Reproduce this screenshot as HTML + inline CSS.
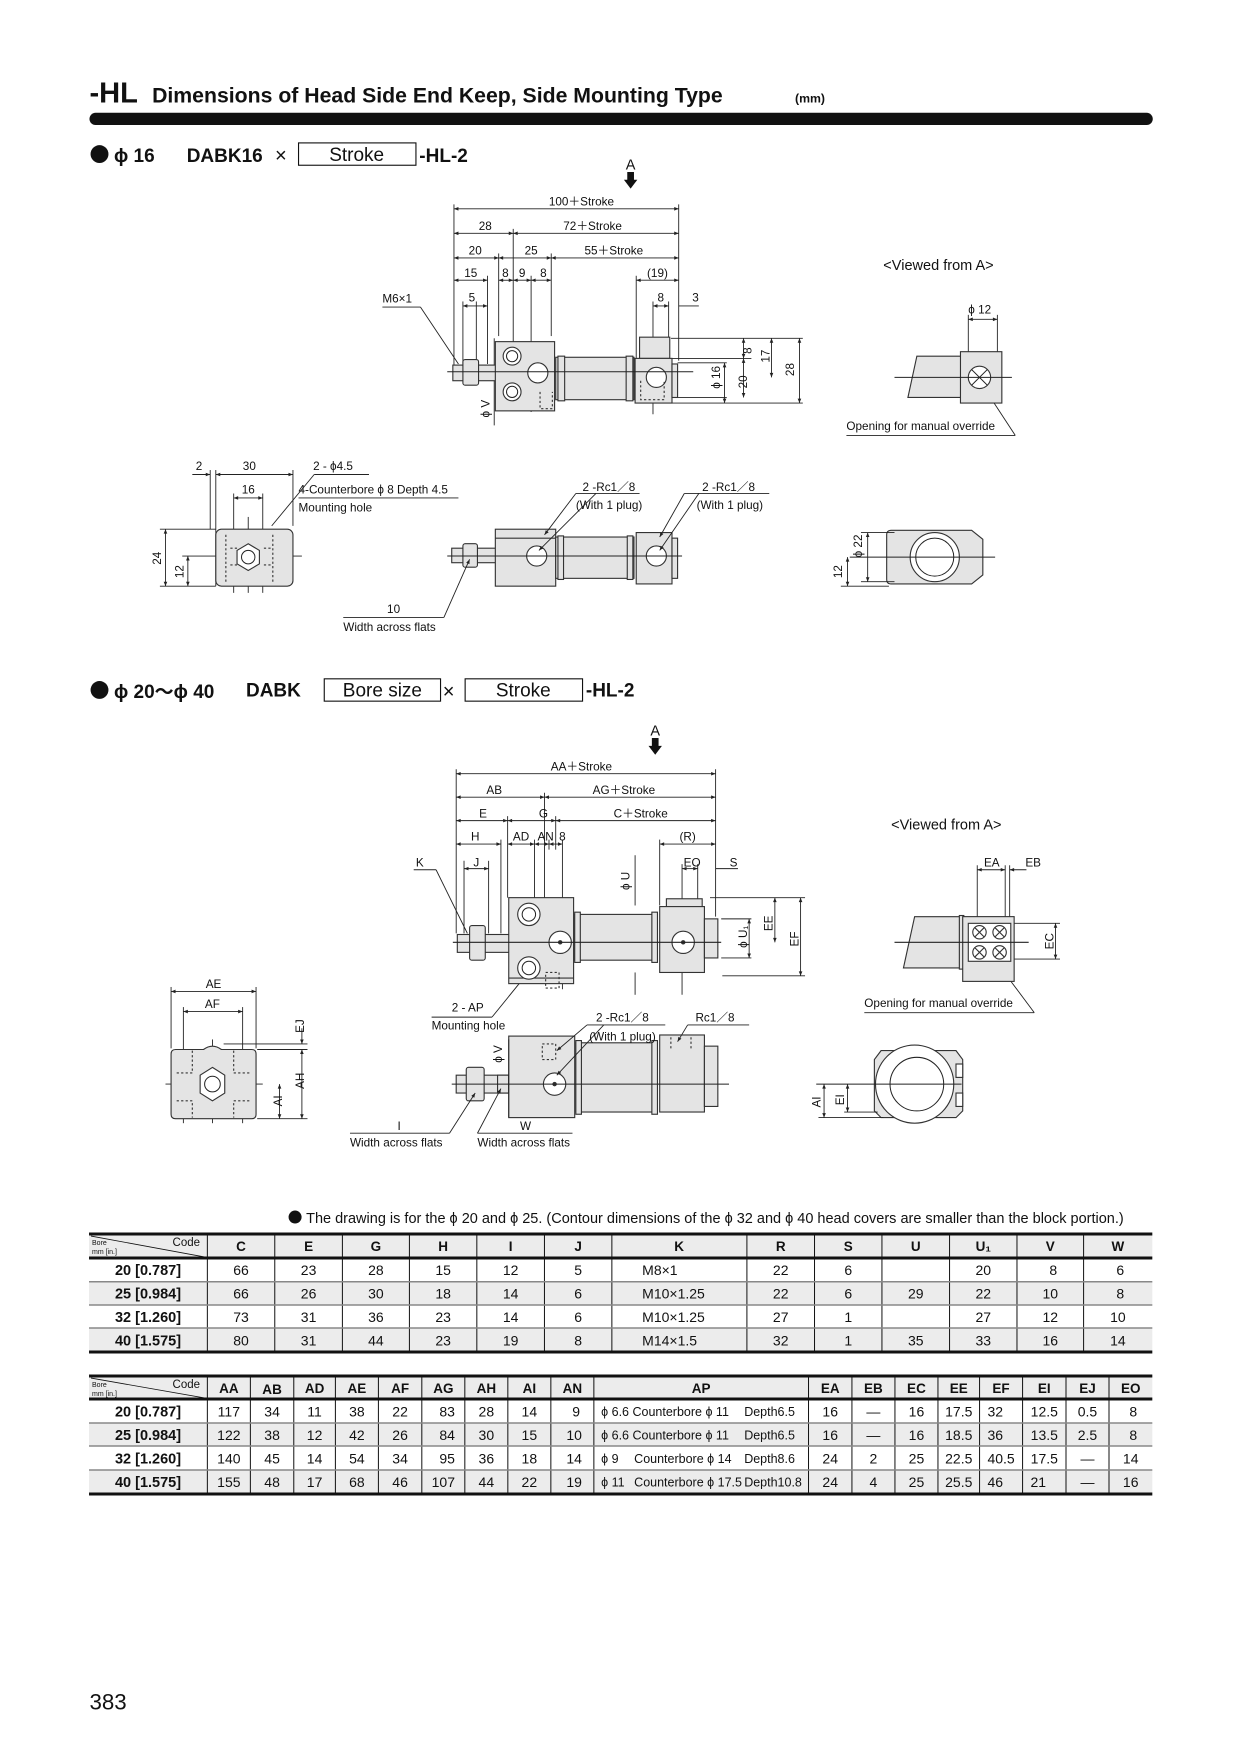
<!DOCTYPE html>
<html><head><meta charset="utf-8"><style>
html,body{margin:0;padding:0;background:#fff}
svg{display:block}
text{font-family:"Liberation Sans","Noto Sans CJK JP",sans-serif;fill:#111}
.d{stroke:#222;stroke-width:0.8;fill:none}
.c{stroke:#222;stroke-width:0.9;fill:none}
.p{fill:#e4e4e4;stroke:#333;stroke-width:1}
.w{fill:#fff;stroke:#333;stroke-width:1}
.s{font-size:10.5px}
.t{font-size:14px;text-anchor:middle}
.tb{font-size:13.5px;text-anchor:middle;font-weight:bold}
.ap{font-size:12.5px}
</style></head><body>
<svg width="1240" height="1754" viewBox="0 -1 1109 1571" preserveAspectRatio="none" xmlns="http://www.w3.org/2000/svg">
<defs>
<marker id="a" viewBox="0 0 10 10" refX="10" refY="5" markerWidth="7" markerHeight="5" orient="auto-start-reverse"><path d="M0,1 L10,5 L0,9 z" fill="#222"/></marker>
</defs>
<!-- Title -->
<text x="80" y="91" style="font-size:26px;font-weight:bold">-HL</text>
<text x="136" y="91" style="font-size:19px;font-weight:bold">Dimensions of Head Side End Keep, Side Mounting Type</text>
<text x="711" y="91" style="font-size:11px;font-weight:bold">(mm)</text>
<rect x="80" y="100" width="951" height="11" rx="5.5" fill="#111"/>

<!-- Section 1 heading -->
<circle cx="89" cy="137" r="8" fill="#111"/>
<text x="102" y="144" style="font-size:17px;font-weight:bold">ϕ 16</text>
<text x="167" y="144" style="font-size:17px;font-weight:bold">DABK16</text>
<text x="246" y="144" style="font-size:18px">×</text>
<rect x="267" y="127" width="105" height="20" fill="none" stroke="#111"/>
<text x="319" y="143" style="font-size:17px;text-anchor:middle">Stroke</text>
<text x="375" y="144" style="font-size:17px;font-weight:bold">-HL-2</text>
<text x="564" y="151" style="font-size:13px;text-anchor:middle">A</text>
<path d="M561,153 h6 v7 h3 l-6,8 l-6,-8 h3z" fill="#111"/>

<!-- Drawing 1 dims -->
<g class="d">
<line x1="406" y1="182" x2="406" y2="330"/><line x1="607" y1="182" x2="607" y2="322"/>
<line x1="459" y1="204" x2="459" y2="365"/><line x1="446" y1="226" x2="446" y2="300"/>
<line x1="493" y1="226" x2="493" y2="300"/><line x1="436" y1="246" x2="436" y2="325"/>
<line x1="475" y1="246" x2="475" y2="368"/><line x1="414" y1="269" x2="414" y2="325"/>
<line x1="426" y1="269" x2="426" y2="325"/><line x1="569" y1="246" x2="569" y2="320"/>
<line x1="584" y1="269" x2="584" y2="370"/><line x1="598" y1="269" x2="598" y2="322"/>
<line x1="406" y1="186" x2="607" y2="186" marker-start="url(#a)" marker-end="url(#a)"/>
<line x1="406" y1="208" x2="459" y2="208" marker-start="url(#a)" marker-end="url(#a)"/>
<line x1="459" y1="208" x2="607" y2="208" marker-start="url(#a)" marker-end="url(#a)"/>
<line x1="406" y1="230" x2="446" y2="230" marker-start="url(#a)" marker-end="url(#a)"/>
<line x1="446" y1="230" x2="493" y2="230" marker-start="url(#a)" marker-end="url(#a)"/>
<line x1="493" y1="230" x2="607" y2="230" marker-start="url(#a)" marker-end="url(#a)"/>
<line x1="406" y1="250" x2="436" y2="250" marker-start="url(#a)" marker-end="url(#a)"/>
<line x1="446" y1="250" x2="459" y2="250" marker-start="url(#a)" marker-end="url(#a)"/>
<line x1="459" y1="250" x2="475" y2="250" marker-start="url(#a)" marker-end="url(#a)"/>
<line x1="475" y1="250" x2="493" y2="250" marker-start="url(#a)" marker-end="url(#a)"/>
<line x1="569" y1="250" x2="607" y2="250" marker-start="url(#a)" marker-end="url(#a)"/>
<line x1="414" y1="273" x2="436" y2="273" marker-start="url(#a)" marker-end="url(#a)"/>
<line x1="584" y1="273" x2="598" y2="273" marker-start="url(#a)" marker-end="url(#a)"/>
<line x1="607" y1="273" x2="625" y2="273"/>
<line x1="342" y1="274" x2="376" y2="274"/><line x1="376" y1="274" x2="410" y2="325"/>
<line x1="600" y1="302" x2="718" y2="302"/><line x1="598" y1="320" x2="672" y2="320"/>
<line x1="606" y1="324" x2="650" y2="324"/><line x1="606" y1="355" x2="650" y2="355"/>
<line x1="601" y1="360" x2="718" y2="360"/>
<line x1="665" y1="302" x2="665" y2="320" marker-start="url(#a)" marker-end="url(#a)"/>
<line x1="665" y1="320" x2="665" y2="355" marker-start="url(#a)" marker-end="url(#a)"/>
<line x1="648" y1="324" x2="648" y2="360" marker-start="url(#a)" marker-end="url(#a)"/>
<line x1="690" y1="302" x2="690" y2="337" marker-start="url(#a)" marker-end="url(#a)"/>
<line x1="715" y1="302" x2="715" y2="360" marker-start="url(#a)" marker-end="url(#a)"/>
<line x1="442" y1="302" x2="442" y2="380"/>
</g>
<g class="s">
<text x="520" y="183" text-anchor="middle">100＋Stroke</text>
<text x="434" y="205" text-anchor="middle">28</text><text x="530" y="205" text-anchor="middle">72＋Stroke</text>
<text x="425" y="227" text-anchor="middle">20</text><text x="475" y="227" text-anchor="middle">25</text><text x="549" y="227" text-anchor="middle">55＋Stroke</text>
<text x="421" y="247" text-anchor="middle">15</text><text x="452" y="247" text-anchor="middle">8</text><text x="467" y="247" text-anchor="middle">9</text><text x="486" y="247" text-anchor="middle">8</text><text x="588" y="247" text-anchor="middle">(19)</text>
<text x="422" y="269" text-anchor="middle">5</text><text x="591" y="269" text-anchor="middle">8</text><text x="622" y="269" text-anchor="middle">3</text>
<text x="342" y="270">M6×1</text>
<text transform="translate(672,313) rotate(-90)" text-anchor="middle">8</text>
<text transform="translate(644,337) rotate(-90)" text-anchor="middle">ϕ 16</text>
<text transform="translate(668,341) rotate(-90)" text-anchor="middle">20</text>
<text transform="translate(688,318) rotate(-90)" text-anchor="middle">17</text>
<text transform="translate(710,330) rotate(-90)" text-anchor="middle">28</text>
<text transform="translate(438,365) rotate(-90)" text-anchor="middle">ϕ V</text>
</g>
<!-- Cylinder 1 -->
<rect class="p" x="405" y="326" width="40" height="14"/>
<rect class="p" x="414" y="321" width="14" height="23" rx="2"/>
<rect class="p" x="443" y="305" width="53" height="62"/>
<rect class="p" x="497" y="319" width="70" height="38"/>
<rect class="p" x="499" y="318" width="6" height="40"/><rect class="p" x="560" y="318" width="6" height="40"/>
<rect class="p" x="572" y="301" width="27" height="19"/>
<rect class="p" x="568" y="320" width="33" height="40"/>
<rect class="p" x="601" y="325" width="5" height="30"/>
<circle class="w" cx="458" cy="318" r="8"/><circle class="c" cx="458" cy="318" r="5"/>
<circle class="w" cx="458" cy="350" r="8"/><circle class="c" cx="458" cy="350" r="5"/>
<circle class="w" cx="481" cy="333" r="9"/><circle class="w" cx="587" cy="337" r="9"/>
<path d="M483,350 v15 h11 v-15 M573,340 v17 h21 v-17" fill="none" stroke="#333" stroke-dasharray="2,2"/>
<line class="c" x1="400" y1="332" x2="620" y2="332"/>
<!-- viewed from A -->
<text x="790" y="241" style="font-size:13px">&lt;Viewed from A&gt;</text>
<g class="d">
<line x1="866" y1="281" x2="866" y2="320"/><line x1="892" y1="281" x2="892" y2="320"/>
<line x1="866" y1="285" x2="892" y2="285" marker-start="url(#a)" marker-end="url(#a)"/>
<line x1="757" y1="389" x2="908" y2="389"/><line x1="908" y1="389" x2="876" y2="340"/>
</g>
<text class="s" x="866" y="280">ϕ 12</text>
<path class="p" d="M820,318 h40 v37 h-48 z"/>
<rect class="p" x="859" y="314" width="37" height="46"/>
<circle class="w" cx="876" cy="337" r="10"/><line class="c" x1="869" y1="330" x2="883" y2="344"/><line class="c" x1="883" y1="330" x2="869" y2="344"/>
<line class="c" x1="800" y1="337" x2="905" y2="337"/>
<text class="s" x="757" y="384">Opening for manual override</text>

<!-- Row 2 drawing 1 -->
<g class="d">
<line x1="188" y1="420" x2="188" y2="473"/><line x1="193" y1="420" x2="193" y2="524"/><line x1="262" y1="420" x2="262" y2="470"/>
<line x1="172" y1="424" x2="188" y2="424" marker-end="url(#a)"/>
<line x1="193" y1="424" x2="262" y2="424" marker-start="url(#a)" marker-end="url(#a)"/>
<line x1="209" y1="445" x2="235" y2="445" marker-start="url(#a)" marker-end="url(#a)"/>
<line x1="209" y1="441" x2="209" y2="530"/><line x1="235" y1="441" x2="235" y2="530"/><line x1="222" y1="462" x2="222" y2="530"/>
<line x1="143" y1="473" x2="193" y2="473"/><line x1="143" y1="524" x2="193" y2="524"/>
<line x1="148" y1="473" x2="148" y2="524" marker-start="url(#a)" marker-end="url(#a)"/>
<line x1="168" y1="497" x2="168" y2="524" marker-start="url(#a)" marker-end="url(#a)"/>
<line x1="163" y1="497" x2="270" y2="497"/>
<line x1="281" y1="424" x2="330" y2="424"/><line x1="281" y1="424" x2="243" y2="470"/>
<line x1="267" y1="445" x2="410" y2="445"/>
</g>
<g class="s">
<text x="178" y="420" text-anchor="middle">2</text><text x="223" y="420" text-anchor="middle">30</text><text x="222" y="441" text-anchor="middle">16</text>
<text x="280" y="420">2 - ϕ4.5</text><text x="267" y="441">4-Counterbore ϕ 8 Depth 4.5</text><text x="267" y="457">Mounting hole</text>
<text transform="translate(144,499) rotate(-90)" text-anchor="middle">24</text>
<text transform="translate(164,511) rotate(-90)" text-anchor="middle">12</text>
</g>
<rect class="p" x="193" y="473" width="69" height="51" rx="5"/>
<path d="M202,478 v42 M244,478 v42 M212,490 h-8 M242,490 h-8 M212,505 h-8 M242,505 h-8" stroke="#333" stroke-dasharray="2,2" fill="none"/>
<path class="w" d="M222,486 l10,6 v12 l-10,6 l-10,-6 v-12z"/><circle class="c" cx="222" cy="498" r="6"/>

<!-- Middle cylinder row2 -->
<rect class="p" x="404" y="490" width="41" height="13"/>
<rect class="p" x="414" y="486" width="13" height="21" rx="2"/>
<rect class="p" x="443" y="473" width="54" height="51"/>
<rect class="p" x="497" y="480" width="70" height="37"/>
<rect class="p" x="499" y="479" width="5" height="39"/><rect class="p" x="561" y="479" width="5" height="39"/>
<rect class="p" x="569" y="476" width="32" height="46"/>
<rect class="p" x="601" y="481" width="5" height="36"/>
<line x1="443" y1="481" x2="497" y2="481" stroke="#333"/>
<circle class="w" cx="480" cy="497" r="9"/><circle class="w" cx="587" cy="497" r="9"/>
<line class="c" x1="400" y1="497" x2="610" y2="497"/>
<g class="d">
<line x1="515" y1="441" x2="572" y2="441"/><line x1="515" y1="441" x2="487" y2="478" marker-end="url(#a)"/><line x1="533" y1="441" x2="482" y2="492" marker-end="url(#a)"/>
<line x1="612" y1="441" x2="688" y2="441"/><line x1="612" y1="441" x2="590" y2="480" marker-end="url(#a)"/><line x1="625" y1="441" x2="590" y2="492" marker-end="url(#a)"/>
<line x1="307" y1="552" x2="397" y2="552"/><line x1="397" y1="552" x2="420" y2="500" marker-end="url(#a)"/>
</g>
<g class="s">
<text x="521" y="439">2 -Rc1／8</text><text x="515" y="455">(With 1 plug)</text>
<text x="628" y="439">2 -Rc1／8</text><text x="623" y="455">(With 1 plug)</text>
<text x="352" y="548" text-anchor="middle">10</text><text x="307" y="564">Width across flats</text>
</g>
<!-- right row2 -->
<path class="p" d="M797,474 h72 l10,8 v32 l-10,8 h-72 q-4,0 -4,-4 v-40 q0,-4 4,-4z"/>
<circle class="w" cx="836" cy="498" r="22"/><circle class="c" cx="836" cy="498" r="17"/>
<line class="c" x1="760" y1="498" x2="890" y2="498"/>
<g class="d">
<line x1="770" y1="476" x2="800" y2="476"/><line x1="770" y1="520" x2="800" y2="520"/>
<line x1="776" y1="476" x2="776" y2="520" marker-start="url(#a)" marker-end="url(#a)"/>
<line x1="758" y1="498" x2="758" y2="524" marker-start="url(#a)" marker-end="url(#a)"/>
<line x1="752" y1="524" x2="795" y2="524"/>
</g>
<g class="s"><text transform="translate(771,488) rotate(-90)" text-anchor="middle">ϕ 22</text><text transform="translate(753,511) rotate(-90)" text-anchor="middle">12</text></g>

<!-- Section 2 heading -->
<circle cx="89" cy="617" r="8" fill="#111"/>
<text x="102" y="624" style="font-size:17px;font-weight:bold">ϕ 20〜ϕ 40</text>
<text x="220" y="623" style="font-size:17px;font-weight:bold">DABK</text>
<rect x="290" y="607" width="104" height="20" fill="none" stroke="#111"/>
<text x="342" y="623" style="font-size:17px;text-anchor:middle">Bore size</text>
<text x="396" y="624" style="font-size:18px">×</text>
<rect x="416" y="607" width="105" height="20" fill="none" stroke="#111"/>
<text x="468" y="623" style="font-size:17px;text-anchor:middle">Stroke</text>
<text x="524" y="623" style="font-size:17px;font-weight:bold">-HL-2</text>
<text x="586" y="658" style="font-size:13px;text-anchor:middle">A</text>
<path d="M583,660 h6 v7 h3 l-6,8 l-6,-8 h3z" fill="#111"/>

<!-- Drawing 2 dims -->
<g class="d">
<line x1="408" y1="688" x2="408" y2="835"/><line x1="640" y1="688" x2="640" y2="820"/>
<line x1="487" y1="709" x2="487" y2="808"/><line x1="454" y1="730" x2="454" y2="803"/><line x1="497" y1="730" x2="497" y2="760"/>
<line x1="448" y1="751" x2="448" y2="835"/><line x1="478" y1="751" x2="478" y2="860"/><line x1="491" y1="751" x2="491" y2="760"/><line x1="503" y1="751" x2="503" y2="885"/>
<line x1="590" y1="751" x2="590" y2="810"/><line x1="415" y1="770" x2="415" y2="835"/><line x1="437" y1="770" x2="437" y2="835"/>
<line x1="610" y1="773" x2="610" y2="890"/><line x1="624" y1="773" x2="624" y2="805"/>
<line x1="408" y1="692" x2="640" y2="692" marker-start="url(#a)" marker-end="url(#a)"/>
<line x1="408" y1="713" x2="487" y2="713" marker-start="url(#a)" marker-end="url(#a)"/>
<line x1="487" y1="713" x2="640" y2="713" marker-start="url(#a)" marker-end="url(#a)"/>
<line x1="408" y1="734" x2="454" y2="734" marker-start="url(#a)" marker-end="url(#a)"/>
<line x1="454" y1="734" x2="497" y2="734" marker-start="url(#a)" marker-end="url(#a)"/>
<line x1="497" y1="734" x2="640" y2="734" marker-start="url(#a)" marker-end="url(#a)"/>
<line x1="408" y1="755" x2="448" y2="755" marker-start="url(#a)" marker-end="url(#a)"/>
<line x1="454" y1="755" x2="478" y2="755" marker-start="url(#a)" marker-end="url(#a)"/>
<line x1="478" y1="755" x2="491" y2="755" marker-start="url(#a)" marker-end="url(#a)"/>
<line x1="491" y1="755" x2="503" y2="755" marker-start="url(#a)" marker-end="url(#a)"/>
<line x1="590" y1="755" x2="640" y2="755" marker-start="url(#a)" marker-end="url(#a)"/>
<line x1="415" y1="777" x2="437" y2="777" marker-start="url(#a)" marker-end="url(#a)"/>
<line x1="610" y1="777" x2="624" y2="777" marker-start="url(#a)" marker-end="url(#a)"/>
<line x1="640" y1="777" x2="660" y2="777"/>
<line x1="370" y1="778" x2="390" y2="778"/><line x1="390" y1="778" x2="418" y2="835"/>
<line x1="568" y1="765" x2="568" y2="810"/><line x1="568" y1="870" x2="568" y2="890"/>
<line x1="635" y1="803" x2="720" y2="803"/><line x1="645" y1="822" x2="672" y2="822"/>
<line x1="645" y1="857" x2="672" y2="857"/><line x1="646" y1="873" x2="720" y2="873"/>
<line x1="670" y1="822" x2="670" y2="857" marker-start="url(#a)" marker-end="url(#a)"/>
<line x1="693" y1="803" x2="693" y2="843" marker-start="url(#a)" marker-end="url(#a)"/>
<line x1="716" y1="803" x2="716" y2="873" marker-start="url(#a)" marker-end="url(#a)"/>
<line x1="386" y1="910" x2="440" y2="910"/><line x1="440" y1="910" x2="470" y2="873" marker-end="url(#a)"/>
</g>
<g class="s">
<text x="520" y="689" text-anchor="middle">AA＋Stroke</text>
<text x="442" y="710" text-anchor="middle">AB</text><text x="558" y="710" text-anchor="middle">AG＋Stroke</text>
<text x="432" y="731" text-anchor="middle">E</text><text x="486" y="731" text-anchor="middle">G</text><text x="573" y="731" text-anchor="middle">C＋Stroke</text>
<text x="425" y="752" text-anchor="middle">H</text><text x="466" y="752" text-anchor="middle">AD</text><text x="488" y="752" text-anchor="middle">AN</text><text x="503" y="752" text-anchor="middle">8</text><text x="615" y="752" text-anchor="middle">(R)</text>
<text x="372" y="775">K</text><text x="426" y="775" text-anchor="middle">J</text><text x="619" y="775" text-anchor="middle">EO</text><text x="656" y="775" text-anchor="middle">S</text>
<text transform="translate(563,788) rotate(-90)" text-anchor="middle">ϕ U</text>
<text transform="translate(668,838) rotate(-90)" text-anchor="middle">ϕ U₁</text>
<text transform="translate(691,826) rotate(-90)" text-anchor="middle">EE</text>
<text transform="translate(714,840) rotate(-90)" text-anchor="middle">EF</text>
<text x="404" y="905">2 - AP</text><text x="386" y="921">Mounting hole</text>
</g>
<!-- Cylinder 2 -->
<rect class="p" x="409" y="836" width="47" height="16"/>
<rect class="p" x="420" y="828" width="14" height="31" rx="2"/>
<rect class="p" x="455" y="803" width="58" height="77"/>
<rect class="p" x="514" y="818" width="74" height="41"/>
<rect class="p" x="514" y="816" width="5" height="45"/><rect class="p" x="583" y="816" width="5" height="45"/>
<rect class="p" x="596" y="804" width="32" height="9"/>
<rect class="p" x="590" y="811" width="40" height="59"/>
<rect class="p" x="630" y="822" width="12" height="35"/>
<line x1="455" y1="875" x2="513" y2="875" stroke="#333"/>
<circle class="w" cx="473" cy="818" r="10"/><circle class="c" cx="473" cy="818" r="6"/>
<circle class="w" cx="473" cy="866" r="10"/><circle class="c" cx="473" cy="866" r="6"/>
<circle class="w" cx="501" cy="843" r="10"/><circle cx="501" cy="843" r="2" fill="#333"/>
<circle class="w" cx="611" cy="843" r="10"/><circle cx="611" cy="843" r="2" fill="#333"/>
<path d="M488,870 h12 v14 h-12z" fill="none" stroke="#333" stroke-dasharray="2,2"/>
<line class="c" x1="405" y1="843" x2="645" y2="843"/>
<!-- viewed from A 2 -->
<text x="797" y="742" style="font-size:13px">&lt;Viewed from A&gt;</text>
<g class="d">
<line x1="874" y1="774" x2="874" y2="820"/><line x1="899" y1="774" x2="899" y2="820"/><line x1="903" y1="774" x2="903" y2="820"/>
<line x1="874" y1="778" x2="899" y2="778" marker-start="url(#a)" marker-end="url(#a)"/>
<line x1="903" y1="778" x2="918" y2="778" marker-start="url(#a)"/>
<line x1="907" y1="826" x2="948" y2="826"/><line x1="907" y1="858" x2="948" y2="858"/>
<line x1="944" y1="826" x2="944" y2="858" marker-start="url(#a)" marker-end="url(#a)"/>
<line x1="773" y1="906" x2="925" y2="906"/><line x1="925" y1="906" x2="887" y2="855"/>
</g>
<g class="s"><text x="880" y="775">EA</text><text x="917" y="775">EB</text><text transform="translate(942,842) rotate(-90)" text-anchor="middle">EC</text><text x="773" y="901">Opening for manual override</text></g>
<path class="p" d="M818,820 h42 v46 h-52 z"/>
<rect class="p" x="858" y="819" width="4" height="48"/>
<rect class="p" x="861" y="820" width="46" height="58"/>
<rect class="w" x="866" y="826" width="38" height="34"/>
<g fill="#fff" stroke="#333"><circle cx="876" cy="834" r="6"/><circle cx="894" cy="834" r="6"/><circle cx="876" cy="852" r="6"/><circle cx="894" cy="852" r="6"/></g>
<path d="M872,830 l8,8 M880,830 l-8,8 M890,830 l8,8 M898,830 l-8,8 M872,848 l8,8 M880,848 l-8,8 M890,848 l8,8 M898,848 l-8,8" stroke="#333"/>
<line class="c" x1="800" y1="843" x2="920" y2="843"/>
<!-- left bottom -->
<g class="d">
<line x1="153" y1="883" x2="153" y2="938"/><line x1="229" y1="883" x2="229" y2="938"/>
<line x1="153" y1="887" x2="229" y2="887" marker-start="url(#a)" marker-end="url(#a)"/>
<line x1="164" y1="901" x2="164" y2="1005"/><line x1="217" y1="901" x2="217" y2="1005"/>
<line x1="164" y1="905" x2="217" y2="905" marker-start="url(#a)" marker-end="url(#a)"/>
<line x1="200" y1="934" x2="275" y2="934"/><line x1="230" y1="939" x2="275" y2="939"/><line x1="230" y1="1001" x2="275" y2="1001"/>
<line x1="270" y1="920" x2="270" y2="934" marker-end="url(#a)"/>
<line x1="270" y1="939" x2="270" y2="1001" marker-start="url(#a)" marker-end="url(#a)"/>
<line x1="250" y1="970" x2="250" y2="1001" marker-start="url(#a)" marker-end="url(#a)"/>
<line x1="148" y1="970" x2="235" y2="970"/><line x1="190" y1="930" x2="190" y2="1005"/>
</g>
<g class="s"><text x="191" y="884" text-anchor="middle">AE</text><text x="190" y="902" text-anchor="middle">AF</text>
<text transform="translate(272,918) rotate(-90)" text-anchor="middle">EJ</text><text transform="translate(272,967) rotate(-90)" text-anchor="middle">AH</text><text transform="translate(252,985) rotate(-90)" text-anchor="middle">AI</text></g>
<path class="p" d="M157,939 h25 q8,-6 16,0 h27 q4,0 4,4 v54 q0,4 -4,4 h-68 q-4,0 -4,-4 v-54 q0,-4 4,-4z"/>
<path d="M158,960 h14 v-20 M223,960 h-14 v-20 M158,985 h14 v15 M223,985 h-14 v15" fill="none" stroke="#333" stroke-dasharray="2,2"/>
<path class="w" d="M190,955 l11,7 v16 l-11,7 l-11,-7 v-16z"/><circle class="c" cx="190" cy="970" r="7"/>
<!-- middle bottom -->
<rect class="p" x="408" y="962" width="49" height="16"/>
<rect class="p" x="417" y="955" width="16" height="30" rx="2"/>
<rect class="p" x="445" y="962" width="10" height="16"/>
<rect class="p" x="455" y="927" width="59" height="73"/>
<rect class="p" x="515" y="933" width="73" height="62"/>
<rect class="p" x="515" y="931" width="5" height="66"/><rect class="p" x="583" y="931" width="5" height="66"/>
<rect class="p" x="590" y="926" width="40" height="69"/>
<rect class="p" x="630" y="936" width="12" height="54"/>
<circle class="w" cx="496" cy="970" r="10"/><circle cx="496" cy="970" r="2" fill="#333"/>
<path d="M485,934 h12 v14 h-12z M600,928 v10 M618,928 v10" fill="none" stroke="#333" stroke-dasharray="2,2"/>
<line class="c" x1="404" y1="970" x2="652" y2="970"/>
<line class="d" x1="455" y1="930" x2="455" y2="1000"/>
<g class="d">
<line x1="313" y1="1014" x2="402" y2="1014"/><line x1="402" y1="1014" x2="425" y2="978" marker-end="url(#a)"/>
<line x1="427" y1="1014" x2="512" y2="1014"/><line x1="427" y1="1014" x2="448" y2="974" marker-end="url(#a)"/>
<line x1="525" y1="917" x2="595" y2="917"/><line x1="525" y1="917" x2="498" y2="940" marker-end="url(#a)"/><line x1="540" y1="917" x2="498" y2="962" marker-end="url(#a)"/>
<line x1="615" y1="917" x2="670" y2="917"/><line x1="615" y1="917" x2="606" y2="932" marker-end="url(#a)"/>
</g>
<g class="s"><text transform="translate(449,943) rotate(-90)" text-anchor="middle">ϕ V</text>
<text x="533" y="914">2 -Rc1／8</text><text x="527" y="931">(With 1 plug)</text><text x="622" y="914">Rc1／8</text>
<text x="357" y="1011" text-anchor="middle">I</text><text x="313" y="1026">Width across flats</text>
<text x="470" y="1011" text-anchor="middle">W</text><text x="427" y="1026">Width across flats</text></g>
<!-- right bottom -->
<path class="p" d="M788,940 h67 l6,8 v46 l-6,6 h-67 l-6,-6 v-46z"/>
<circle class="w" cx="818" cy="970" r="35"/><circle class="c" cx="820" cy="970" r="24"/>
<rect class="w" x="855" y="952" width="6" height="12"/><rect class="w" x="855" y="978" width="6" height="12"/>
<line class="c" x1="730" y1="970" x2="860" y2="970"/>
<g class="d"><line x1="732" y1="1000" x2="790" y2="1000"/><line x1="755" y1="995" x2="785" y2="995"/>
<line x1="737" y1="970" x2="737" y2="1000" marker-start="url(#a)" marker-end="url(#a)"/>
<line x1="758" y1="970" x2="758" y2="995" marker-start="url(#a)" marker-end="url(#a)"/></g>
<g class="s"><text transform="translate(734,986) rotate(-90)" text-anchor="middle">AI</text><text transform="translate(755,984) rotate(-90)" text-anchor="middle">EI</text></g>

<!-- Tables in real pixel coordinates -->
<g transform="translate(0,-1) scale(0.8946,0.8957)">
<circle cx="295" cy="1217" r="6.5" fill="#111"/>
<text x="306" y="1223" style="font-size:14.5px">The drawing is for the  ϕ 20 and  ϕ 25. (Contour dimensions of the  ϕ 32 and  ϕ 40 head covers are smaller than the block portion.)</text>

<!-- Table 1 -->
<rect x="89" y="1234" width="1063" height="24" fill="#ececec"/>
<rect x="89" y="1281.7" width="1063" height="23.3" fill="#ececec"/>
<rect x="89" y="1328" width="1063" height="24" fill="#ececec"/>
<g stroke="#111" stroke-width="1">
<line x1="207.3" y1="1234" x2="207.3" y2="1352"/><line x1="274.7" y1="1234" x2="274.7" y2="1352"/><line x1="342.3" y1="1234" x2="342.3" y2="1352"/><line x1="409.3" y1="1234" x2="409.3" y2="1352"/><line x1="476.7" y1="1234" x2="476.7" y2="1352"/><line x1="544.3" y1="1234" x2="544.3" y2="1352"/><line x1="611.7" y1="1234" x2="611.7" y2="1352"/><line x1="746.7" y1="1234" x2="746.7" y2="1352"/><line x1="814.3" y1="1234" x2="814.3" y2="1352"/><line x1="881.7" y1="1234" x2="881.7" y2="1352"/><line x1="949.3" y1="1234" x2="949.3" y2="1352"/><line x1="1016.7" y1="1234" x2="1016.7" y2="1352"/><line x1="1083.3" y1="1234" x2="1083.3" y2="1352"/>
<line x1="91" y1="1236" x2="205" y2="1257" stroke-width="0.8"/>
</g>
<line x1="89" y1="1234" x2="1152" y2="1234" stroke="#111" stroke-width="3"/>
<line x1="89" y1="1258" x2="1152" y2="1258" stroke="#111" stroke-width="3"/>
<line x1="89" y1="1281.7" x2="1152" y2="1281.7" stroke="#888" stroke-width="1.5"/>
<line x1="89" y1="1305" x2="1152" y2="1305" stroke="#888" stroke-width="1.5"/>
<line x1="89" y1="1328" x2="1152" y2="1328" stroke="#888" stroke-width="1.5"/>
<line x1="89" y1="1352" x2="1152" y2="1352" stroke="#111" stroke-width="3"/>
<text x="92" y="1245" style="font-size:7px">Bore</text><text x="92" y="1254" style="font-size:7px">mm [in.]</text><text x="200" y="1246" style="font-size:11.5px;text-anchor:end">Code</text>
<g class="tb"><text x="241" y="1251">C</text><text x="308.5" y="1251">E</text><text x="375.8" y="1251">G</text><text x="443" y="1251">H</text><text x="510.5" y="1251">I</text><text x="578" y="1251">J</text><text x="679" y="1251">K</text><text x="780.5" y="1251">R</text><text x="848" y="1251">S</text><text x="915.5" y="1251">U</text><text x="983" y="1251">U₁</text><text x="1050" y="1251">V</text><text x="1117.6" y="1251">W</text></g>
<g class="tb" style="font-size:14.5px"><text x="148" y="1275">20 [0.787]</text><text x="148" y="1298.5">25 [0.984]</text><text x="148" y="1322">32 [1.260]</text><text x="148" y="1345.5">40 [1.575]</text></g>
<g class="t">
<text x="241" y="1275">66</text><text x="308.5" y="1275">23</text><text x="375.8" y="1275">28</text><text x="443" y="1275">15</text><text x="510.5" y="1275">12</text><text x="578" y="1275">5</text><text x="642" y="1275" text-anchor="start">M8×1</text><text x="780.5" y="1275">22</text><text x="848" y="1275">6</text><text x="983" y="1275">20</text><text x="1053" y="1275">8</text><text x="1120" y="1275">6</text>
<text x="241" y="1298.5">66</text><text x="308.5" y="1298.5">26</text><text x="375.8" y="1298.5">30</text><text x="443" y="1298.5">18</text><text x="510.5" y="1298.5">14</text><text x="578" y="1298.5">6</text><text x="642" y="1298.5" text-anchor="start">M10×1.25</text><text x="780.5" y="1298.5">22</text><text x="848" y="1298.5">6</text><text x="915.5" y="1298.5">29</text><text x="983" y="1298.5">22</text><text x="1050" y="1298.5">10</text><text x="1120" y="1298.5">8</text>
<text x="241" y="1322">73</text><text x="308.5" y="1322">31</text><text x="375.8" y="1322">36</text><text x="443" y="1322">23</text><text x="510.5" y="1322">14</text><text x="578" y="1322">6</text><text x="642" y="1322" text-anchor="start">M10×1.25</text><text x="780.5" y="1322">27</text><text x="848" y="1322">1</text><text x="983" y="1322">27</text><text x="1050" y="1322">12</text><text x="1117.6" y="1322">10</text>
<text x="241" y="1345.5">80</text><text x="308.5" y="1345.5">31</text><text x="375.8" y="1345.5">44</text><text x="443" y="1345.5">23</text><text x="510.5" y="1345.5">19</text><text x="578" y="1345.5">8</text><text x="642" y="1345.5" text-anchor="start">M14×1.5</text><text x="780.5" y="1345.5">32</text><text x="848" y="1345.5">1</text><text x="915.5" y="1345.5">35</text><text x="983" y="1345.5">33</text><text x="1050" y="1345.5">16</text><text x="1117.6" y="1345.5">14</text>
</g>

<!-- Table 2 -->
<rect x="89" y="1376" width="1063" height="23" fill="#ececec"/>
<rect x="89" y="1423" width="1063" height="23" fill="#ececec"/>
<rect x="89" y="1470" width="1063" height="24" fill="#ececec"/>
<g stroke="#111" stroke-width="1">
<line x1="207.3" y1="1376" x2="207.3" y2="1494"/><line x1="250.3" y1="1376" x2="250.3" y2="1494"/><line x1="293.7" y1="1376" x2="293.7" y2="1494"/><line x1="335.3" y1="1376" x2="335.3" y2="1494"/><line x1="378.3" y1="1376" x2="378.3" y2="1494"/><line x1="421.7" y1="1376" x2="421.7" y2="1494"/><line x1="464.7" y1="1376" x2="464.7" y2="1494"/><line x1="507.7" y1="1376" x2="507.7" y2="1494"/><line x1="550.7" y1="1376" x2="550.7" y2="1494"/><line x1="593.7" y1="1376" x2="593.7" y2="1494"/><line x1="808.3" y1="1376" x2="808.3" y2="1494"/><line x1="851.7" y1="1376" x2="851.7" y2="1494"/><line x1="894.7" y1="1376" x2="894.7" y2="1494"/><line x1="937.7" y1="1376" x2="937.7" y2="1494"/><line x1="979.3" y1="1376" x2="979.3" y2="1494"/><line x1="1022.3" y1="1376" x2="1022.3" y2="1494"/><line x1="1065.7" y1="1376" x2="1065.7" y2="1494"/><line x1="1108.7" y1="1376" x2="1108.7" y2="1494"/>
<line x1="91" y1="1378" x2="205" y2="1398" stroke-width="0.8"/>
</g>
<line x1="89" y1="1376" x2="1152" y2="1376" stroke="#111" stroke-width="3"/>
<line x1="89" y1="1399" x2="1152" y2="1399" stroke="#111" stroke-width="3"/>
<line x1="89" y1="1423" x2="1152" y2="1423" stroke="#888" stroke-width="1.5"/>
<line x1="89" y1="1446" x2="1152" y2="1446" stroke="#888" stroke-width="1.5"/>
<line x1="89" y1="1470" x2="1152" y2="1470" stroke="#888" stroke-width="1.5"/>
<line x1="89" y1="1494" x2="1152" y2="1494" stroke="#111" stroke-width="3"/>
<text x="92" y="1387" style="font-size:7px">Bore</text><text x="92" y="1396" style="font-size:7px">mm [in.]</text><text x="200" y="1388" style="font-size:11.5px;text-anchor:end">Code</text>
<g class="tb"><text x="228.8" y="1393">AA</text><text x="272" y="1394">AB</text><text x="314.5" y="1393">AD</text><text x="356.8" y="1393">AE</text><text x="400" y="1393">AF</text><text x="443.2" y="1393">AG</text><text x="486.2" y="1393">AH</text><text x="529.2" y="1393">AI</text><text x="572.2" y="1393">AN</text><text x="701" y="1393">AP</text><text x="830" y="1393">EA</text><text x="873.2" y="1393">EB</text><text x="916.2" y="1393">EC</text><text x="958.5" y="1393">EE</text><text x="1000.8" y="1393">EF</text><text x="1044" y="1393">EI</text><text x="1087.2" y="1393">EJ</text><text x="1130.4" y="1393">EO</text></g>
<g class="tb" style="font-size:14.5px"><text x="148" y="1416.5">20 [0.787]</text><text x="148" y="1440">25 [0.984]</text><text x="148" y="1463.5">32 [1.260]</text><text x="148" y="1487">40 [1.575]</text></g>
<g class="t">
<text x="228.8" y="1416.5">117</text><text x="272" y="1416.5">34</text><text x="314.5" y="1416.5">11</text><text x="356.8" y="1416.5">38</text><text x="400" y="1416.5">22</text><text x="447" y="1416.5">83</text><text x="486.2" y="1416.5">28</text><text x="529.2" y="1416.5">14</text><text x="576" y="1416.5">9</text><text x="830" y="1416.5">16</text><text x="873.2" y="1416.5">—</text><text x="916.2" y="1416.5">16</text><text x="958.5" y="1416.5">17.5</text><text x="995" y="1416.5">32</text><text x="1044" y="1416.5">12.5</text><text x="1087.2" y="1416.5">0.5</text><text x="1133" y="1416.5">8</text>
<text x="228.8" y="1440">122</text><text x="272" y="1440">38</text><text x="314.5" y="1440">12</text><text x="356.8" y="1440">42</text><text x="400" y="1440">26</text><text x="447" y="1440">84</text><text x="486.2" y="1440">30</text><text x="529.2" y="1440">15</text><text x="574" y="1440">10</text><text x="830" y="1440">16</text><text x="873.2" y="1440">—</text><text x="916.2" y="1440">16</text><text x="958.5" y="1440">18.5</text><text x="995" y="1440">36</text><text x="1044" y="1440">13.5</text><text x="1087.2" y="1440">2.5</text><text x="1133" y="1440">8</text>
<text x="228.8" y="1463.5">140</text><text x="272" y="1463.5">45</text><text x="314.5" y="1463.5">14</text><text x="356.8" y="1463.5">54</text><text x="400" y="1463.5">34</text><text x="447" y="1463.5">95</text><text x="486.2" y="1463.5">36</text><text x="529.2" y="1463.5">18</text><text x="574" y="1463.5">14</text><text x="830" y="1463.5">24</text><text x="873.2" y="1463.5">2</text><text x="916.2" y="1463.5">25</text><text x="958.5" y="1463.5">22.5</text><text x="1000.8" y="1463.5">40.5</text><text x="1044" y="1463.5">17.5</text><text x="1087.2" y="1463.5">—</text><text x="1130.4" y="1463.5">14</text>
<text x="228.8" y="1487">155</text><text x="272" y="1487">48</text><text x="314.5" y="1487">17</text><text x="356.8" y="1487">68</text><text x="400" y="1487">46</text><text x="443.2" y="1487">107</text><text x="486.2" y="1487">44</text><text x="529.2" y="1487">22</text><text x="574" y="1487">19</text><text x="830" y="1487">24</text><text x="873.2" y="1487">4</text><text x="916.2" y="1487">25</text><text x="958.5" y="1487">25.5</text><text x="995" y="1487">46</text><text x="1038" y="1487">21</text><text x="1087.2" y="1487">—</text><text x="1130.4" y="1487">16</text>
</g>
<g class="ap">
<text x="601" y="1416">ϕ 6.6  Counterbore ϕ 11</text><text x="744" y="1416">Depth6.5</text>
<text x="601" y="1439.5">ϕ 6.6  Counterbore ϕ 11</text><text x="744" y="1439.5">Depth6.5</text>
<text x="601" y="1463">ϕ 9</text><text x="634" y="1463">Counterbore ϕ 14</text><text x="744" y="1463">Depth8.6</text>
<text x="601" y="1486.5">ϕ 11</text><text x="634" y="1486.5">Counterbore ϕ 17.5</text><text x="744" y="1486.5">Depth10.8</text>
</g>
</g>

<text x="80" y="1530" style="font-size:20px">383</text>
</svg>
</body></html>
